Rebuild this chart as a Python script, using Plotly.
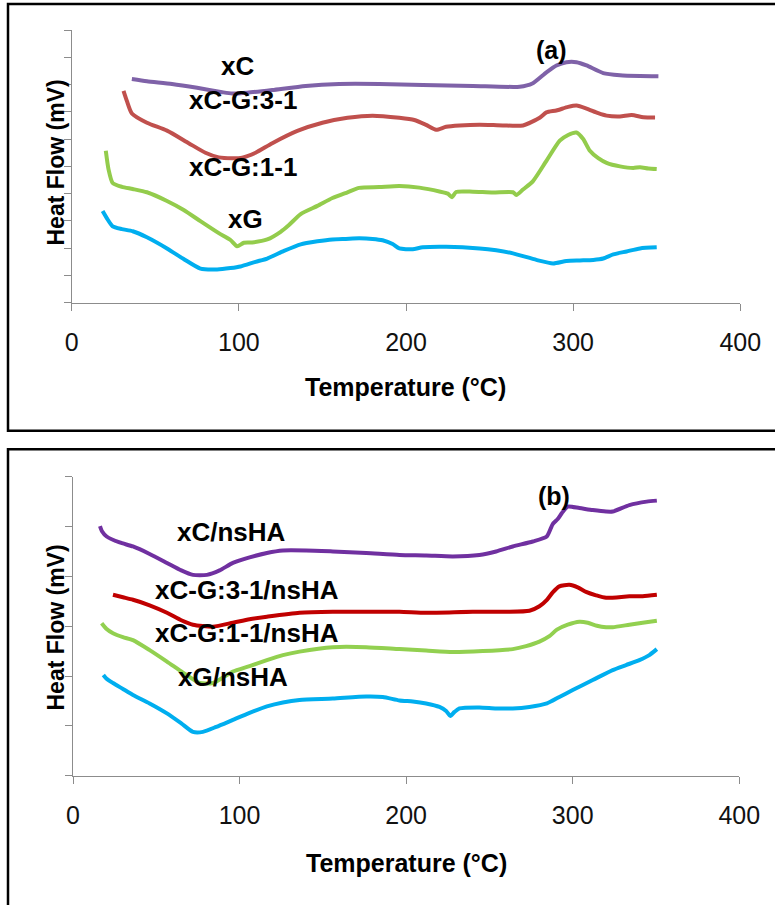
import plotly.graph_objects as go

# ---------------- Panel (a) data ----------------
a_xC_x = [36, 45, 60, 75, 90, 96, 105, 120, 140, 160, 184, 210, 240, 268, 275.6, 284, 290, 296, 302, 308, 318, 328, 340, 351]
a_xC_y = [8.2, 8.12, 8.02, 7.88, 7.72, 7.67, 7.7, 7.8, 7.95, 8.02, 8.02, 7.98, 7.95, 7.92, 8.04, 8.45, 8.7, 8.82, 8.82, 8.7, 8.42, 8.34, 8.31, 8.3]

a_CG31_x = [31, 33, 36, 45, 57, 70, 80, 88, 96, 102, 110, 120, 135, 150, 165, 180, 196, 205, 212, 218, 224, 232, 244, 258, 270, 280, 284, 290, 297, 302, 308, 315, 320, 328, 335, 342, 349]
a_CG31_y = [7.77, 7.4, 6.94, 6.6, 6.31, 5.85, 5.5, 5.33, 5.3, 5.32, 5.5, 5.85, 6.3, 6.6, 6.78, 6.86, 6.78, 6.7, 6.52, 6.34, 6.45, 6.5, 6.53, 6.5, 6.5, 6.78, 6.98, 7.05, 7.18, 7.23, 7.12, 6.95, 6.86, 6.83, 6.88, 6.8, 6.79]

a_CG11_x = [20.4, 22, 24.5, 30, 36.5, 45, 57, 67, 77, 88, 95, 99, 103, 108, 117, 125, 130, 137, 147, 156, 165, 172, 184, 196, 208, 220, 225, 227.5, 230, 240, 252, 264, 266, 270, 276, 284, 292, 297, 302, 306, 310, 315, 320, 328, 336, 340, 345, 350]
a_CG11_y = [5.57, 4.9, 4.39, 4.25, 4.17, 4.05, 3.73, 3.4, 2.99, 2.55, 2.3, 2.07, 2.2, 2.21, 2.32, 2.6, 2.85, 3.25, 3.55, 3.84, 4.05, 4.21, 4.24, 4.28, 4.22, 4.08, 4.0, 3.87, 4.06, 4.07, 4.04, 4.05, 3.95, 4.15, 4.46, 5.2, 5.94, 6.15, 6.24, 6.0, 5.57, 5.3, 5.13, 5.0, 4.94, 4.97, 4.92, 4.9]

a_xG_x = [18.5, 21, 24.5, 30, 36.5, 45, 57, 67, 77, 87, 95, 101, 110, 117, 127, 137, 147, 156, 164, 172, 180, 186, 192, 196, 204, 210, 224, 244, 254, 264, 278, 288, 296, 304, 312, 318, 324, 332, 340, 350]
a_xG_y = [3.36, 3.1, 2.8, 2.7, 2.62, 2.4, 1.99, 1.6, 1.25, 1.22, 1.27, 1.33, 1.5, 1.62, 1.9, 2.14, 2.25, 2.32, 2.34, 2.36, 2.34, 2.29, 2.15, 1.99, 1.96, 2.03, 2.05, 1.99, 1.92, 1.81, 1.57, 1.44, 1.53, 1.55, 1.57, 1.62, 1.77, 1.88, 1.99, 2.03]

# ---------------- Panel (b) data ----------------
b_xC_x = [16.2, 17.5, 20.2, 28, 36, 46, 56.4, 65, 72, 80.4, 88, 96, 106, 116.4, 126, 140, 156, 176, 196, 212, 228, 244, 254, 264, 276, 284.4, 288, 291, 293.5, 297, 304, 312, 320, 324, 334, 344.4, 350.5]
b_xC_y = [5.01, 4.9, 4.8, 4.68, 4.6, 4.45, 4.27, 4.12, 4.03, 4.03, 4.12, 4.27, 4.38, 4.47, 4.52, 4.52, 4.5, 4.47, 4.43, 4.42, 4.4, 4.43, 4.5, 4.6, 4.7, 4.8, 5.05, 5.15, 5.27, 5.4, 5.37, 5.33, 5.3, 5.3, 5.43, 5.5, 5.52]

b_CG31_x = [24, 30, 36, 46, 56.4, 65, 72, 84, 96, 106, 116.4, 136, 156, 176, 196, 212, 240, 260, 274, 280, 284.5, 288, 292, 298, 303, 308, 314, 320, 334, 342, 350.5]
b_CG31_y = [3.63, 3.58, 3.53, 3.42, 3.27, 3.12, 3.03, 2.99, 3.07, 3.14, 3.19, 3.27, 3.29, 3.29, 3.29, 3.27, 3.29, 3.29, 3.31, 3.4, 3.53, 3.68, 3.8, 3.83, 3.78, 3.69, 3.62, 3.57, 3.6, 3.6, 3.63]

b_CG11_x = [17.2, 20, 24, 30, 36, 46, 56.4, 66, 76, 84, 90, 96, 106, 116.4, 126, 136, 156, 176, 196, 212, 228, 246, 264, 272, 280, 286, 290.5, 297, 304, 309, 314.5, 320, 324, 334, 342, 350.5]
b_CG11_y = [3.06, 2.95, 2.86, 2.78, 2.72, 2.52, 2.29, 2.07, 1.86, 1.86, 1.97, 2.09, 2.2, 2.32, 2.42, 2.49, 2.58, 2.58, 2.54, 2.51, 2.48, 2.5, 2.54, 2.6, 2.69, 2.8, 2.93, 3.03, 3.09, 3.07, 3.01, 2.98, 2.98, 3.03, 3.07, 3.11]

b_xG_x = [18.2, 20, 24, 30, 36, 46, 56.4, 65, 72, 78, 86, 96, 106, 116.4, 126, 136, 156, 176, 186, 196, 204, 212, 220, 224, 226.5, 229, 232, 244, 254, 264, 274, 284.5, 292, 300, 312, 324, 332, 340, 346, 350.5]
b_xG_y = [2.02, 1.95, 1.86, 1.74, 1.62, 1.45, 1.25, 1.05, 0.88, 0.88, 0.98, 1.12, 1.26, 1.39, 1.47, 1.52, 1.55, 1.59, 1.58, 1.51, 1.49, 1.45, 1.38, 1.3, 1.2, 1.28, 1.35, 1.37, 1.35, 1.35, 1.38, 1.45, 1.58, 1.72, 1.92, 2.12, 2.22, 2.32, 2.42, 2.54]

# labels
a_labels = ["xC", "xC-G:3-1", "xC-G:1-1", "xG"]
b_labels = ["xC/nsHA", "xC-G:3-1/nsHA", "xC-G:1-1/nsHA", "xG/nsHA"]
a_label_pos = [(99.4, 8.69), (102.4, 7.42), (102.4, 4.98), (104, 3.06)]
b_label_pos = [(95.4, 4.9), (104.4, 3.73), (104.4, 2.86), (96, 1.99)]
x_ticks = [0, 100, 200, 300, 400]
x_title = "Temperature (°C)"
y_title = "Heat Flow (mV)"

a_colors = ["#7F62A8", "#C0504D", "#93CC4C", "#00AEEF"]
b_colors = ["#7030A0", "#C00000", "#92D050", "#00AEEF"]

FONT = "Liberation Sans, Arial, sans-serif"
W, H = 775, 905

fig = go.Figure()

a_series = [(a_xC_x, a_xC_y), (a_CG31_x, a_CG31_y), (a_CG11_x, a_CG11_y), (a_xG_x, a_xG_y)]
b_series = [(b_xC_x, b_xC_y), (b_CG31_x, b_CG31_y), (b_CG11_x, b_CG11_y), (b_xG_x, b_xG_y)]

for (xs, ys), c, name in zip(a_series, a_colors, a_labels):
    fig.add_trace(go.Scatter(x=xs, y=ys, mode="lines", name=name,
                             line=dict(color=c, width=4, shape="spline", smoothing=0.6),
                             xaxis="x", yaxis="y", showlegend=False, hoverinfo="skip"))
for (xs, ys), c, name in zip(b_series, b_colors, b_labels):
    fig.add_trace(go.Scatter(x=xs, y=ys, mode="lines", name=name,
                             line=dict(color=c, width=4, shape="spline", smoothing=0.6),
                             xaxis="x2", yaxis="y2", showlegend=False, hoverinfo="skip"))

def px_x(p):
    return p / W

def px_y(p):
    return 1 - p / H

axis_common = dict(showgrid=False, zeroline=False, showline=True, linecolor="#8c8c8c",
                   linewidth=1, ticks="outside", ticklen=7, tickcolor="#8c8c8c", tickwidth=1,
                   automargin=False, fixedrange=True)

fig.update_layout(
    width=W, height=H,
    margin=dict(l=0, r=0, t=0, b=0, autoexpand=False),
    paper_bgcolor="white", plot_bgcolor="rgba(0,0,0,0)",
    font=dict(family=FONT, color="#111111"),
    xaxis=dict(domain=[px_x(71.7), px_x(740.3)], range=[0, 400], tickvals=x_ticks,
               anchor="y", tickfont=dict(size=25, family=FONT, color="#111111"),
               ticklabelstandoff=10, **axis_common),
    yaxis=dict(domain=[px_y(302.7), px_y(30)], range=[0, 10], dtick=1,
               anchor="x", showticklabels=False, **axis_common),
    xaxis2=dict(domain=[px_x(73), px_x(739.3)], range=[0, 400], tickvals=x_ticks,
                anchor="y2", tickfont=dict(size=25, family=FONT, color="#111111"),
                ticklabelstandoff=10, **axis_common),
    yaxis2=dict(domain=[px_y(775.7), px_y(476.7)], range=[0, 6], dtick=1,
                anchor="x2", showticklabels=False, **axis_common),
)

annotations = []
for text, (x, y) in zip(a_labels, a_label_pos):
    annotations.append(dict(x=x, y=y, xref="x", yref="y", text="<b>%s</b>" % text, showarrow=False,
                            xanchor="center", yanchor="middle", font=dict(size=26, family=FONT, color="black")))
for text, (x, y) in zip(b_labels, b_label_pos):
    annotations.append(dict(x=x, y=y, xref="x2", yref="y2", text="<b>%s</b>" % text, showarrow=False,
                            xanchor="center", yanchor="middle", font=dict(size=26, family=FONT, color="black")))
annotations.append(dict(x=287, y=9.26, xref="x", yref="y", text="<b>(a)</b>", showarrow=False,
                        xanchor="center", yanchor="middle", font=dict(size=25, family=FONT, color="black")))
annotations.append(dict(x=289, y=5.62, xref="x2", yref="y2", text="<b>(b)</b>", showarrow=False,
                        xanchor="center", yanchor="middle", font=dict(size=25, family=FONT, color="black")))

# axis titles
for cx, cy in [(405, 387), (406.5, 862.5)]:
    annotations.append(dict(x=px_x(cx), y=px_y(cy), xref="paper", yref="paper", text="<b>%s</b>" % x_title,
                            showarrow=False, xanchor="center", yanchor="middle",
                            font=dict(size=25, family=FONT, color="black")))
for cx, cy in [(55, 162.5), (55, 627.5)]:
    annotations.append(dict(x=px_x(cx), y=px_y(cy), xref="paper", yref="paper", text="<b>%s</b>" % y_title,
                            showarrow=False, xanchor="center", yanchor="middle", textangle=-90,
                            font=dict(size=23, family=FONT, color="black")))
fig.update_layout(annotations=annotations)

# panel frames
fig.add_shape(type="rect", xref="paper", yref="paper",
              x0=px_x(8), x1=1.02, y0=px_y(430.7), y1=px_y(4),
              line=dict(color="black", width=2.5), fillcolor="rgba(0,0,0,0)", layer="below")
fig.add_shape(type="rect", xref="paper", yref="paper",
              x0=px_x(8), x1=1.02, y0=-0.02, y1=px_y(449.3),
              line=dict(color="black", width=2.5), fillcolor="rgba(0,0,0,0)", layer="below")

fig.write_html("out.html", config={"displayModeBar": False},
               post_script="document.body.style.margin='0px';document.body.style.overflow='hidden';")
